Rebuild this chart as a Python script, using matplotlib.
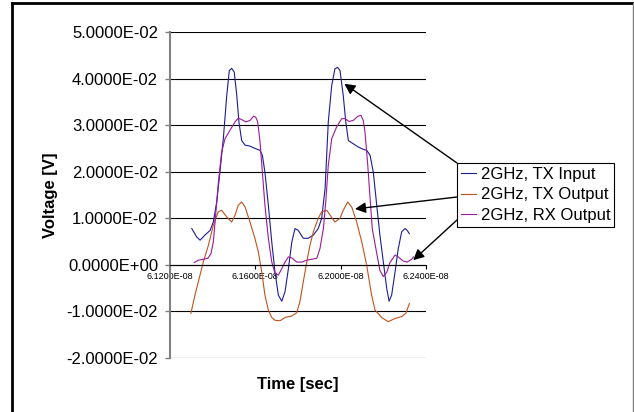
import matplotlib
matplotlib.use("Agg")
import matplotlib.pyplot as plt
from matplotlib.lines import Line2D
from matplotlib.ticker import FuncFormatter
import numpy as np

plt.rcParams["font.family"] = ["Liberation Sans", "DejaVu Sans"]

# time in ns, voltage in mV
t_tx_in = [61.302, 61.325, 61.341, 61.364, 61.388, 61.403, 61.419, 61.434, 61.450, 61.466,
           61.478, 61.489, 61.501, 61.513, 61.523, 61.536, 61.552, 61.575, 61.598, 61.622,
           61.633, 61.645, 61.661, 61.677, 61.692, 61.708, 61.724, 61.739, 61.755, 61.771,
           61.786, 61.801, 61.825, 61.848, 61.872, 61.895, 61.911, 61.927, 61.942, 61.958,
           61.973, 61.986, 61.997, 62.012, 62.024, 62.036, 62.059, 62.083, 62.106, 62.122,
           62.138, 62.153, 62.169, 62.184, 62.200, 62.216, 62.227, 62.239, 62.255, 62.270,
           62.286, 62.302, 62.312, 62.322]
v_tx_in = [7.8, 6.0, 5.3, 6.4, 7.4, 9.2, 13.5, 19.9, 27.1, 36.4,
           41.7, 42.2, 41.4, 36.4, 30.7, 26.7, 25.7, 25.5, 25.0, 24.6,
           23.5, 19.9, 12.8, 4.9, -1.5, -6.5, -7.8, -5.8, -0.8, 4.9,
           7.8, 7.4, 5.7, 5.7, 6.4, 7.8, 10.0, 16.4, 30.7, 38.5,
           42.1, 42.4, 41.7, 36.4, 30.7, 26.7, 26.0, 25.3, 24.8, 24.6,
           23.5, 19.9, 12.8, 6.4, 0.6, -5.1, -7.8, -6.5, -1.5, 3.5,
           7.1, 7.8, 7.4, 6.7]

t_tx_out = [61.298, 61.317, 61.333, 61.356, 61.380, 61.403, 61.426, 61.442, 61.466, 61.489,
            61.505, 61.520, 61.536, 61.552, 61.575, 61.598, 61.614, 61.630, 61.645, 61.661,
            61.677, 61.692, 61.716, 61.739, 61.770, 61.794, 61.809, 61.825, 61.841, 61.856,
            61.872, 61.895, 61.911, 61.935, 61.950, 61.973, 61.997, 62.012, 62.033, 62.052,
            62.075, 62.099, 62.122, 62.145, 62.161, 62.192, 62.223, 62.255, 62.286, 62.306,
            62.322]
v_tx_out = [-10.4, -6.5, -3.6, 0.6, 4.2, 8.5, 11.4, 11.7, 10.3, 9.2,
            10.7, 12.8, 13.5, 12.4, 9.2, 5.7, 2.8, -1.5, -6.5, -9.7,
            -11.3, -11.9, -12.0, -11.3, -11.0, -10.3, -7.9, -3.6, 0.6, 4.2,
            7.1, 10.0, 11.4, 11.7, 10.7, 9.2, 10.0, 11.7, 13.5, 12.4,
            9.2, 4.9, -0.1, -6.5, -9.7, -11.3, -12.2, -11.5, -11.1, -10.4,
            -8.3]

t_rx_out = [61.314, 61.333, 61.356, 61.377, 61.392, 61.403, 61.414, 61.427, 61.442, 61.458,
            61.481, 61.505, 61.520, 61.536, 61.555, 61.575, 61.591, 61.602, 61.611, 61.622,
            61.633, 61.645, 61.661, 61.677, 61.692, 61.708, 61.724, 61.739, 61.755, 61.771,
            61.794, 61.818, 61.841, 61.864, 61.888, 61.903, 61.919, 61.930, 61.942, 61.958,
            61.981, 62.005, 62.020, 62.039, 62.059, 62.080, 62.095, 62.106, 62.114, 62.127,
            62.138, 62.148, 62.169, 62.184, 62.200, 62.216, 62.231, 62.255, 62.270, 62.294,
            62.312, 62.333, 62.341]
v_rx_out = [0.5, 1.0, 1.2, 1.4, 2.4, 4.9, 10.7, 17.8, 24.2, 27.1,
            28.9, 30.7, 31.5, 31.2, 30.7, 31.0, 31.9, 31.7, 30.7, 26.4,
            19.9, 12.8, 5.7, 0.6, -1.8, -2.2, -0.8, 0.6, 1.7, 1.5,
            0.6, 0.6, 1.0, 1.2, 1.4, 3.5, 7.8, 13.5, 21.4, 27.1,
            29.6, 31.4, 31.4, 30.8, 31.0, 31.9, 32.1, 31.0, 28.5, 21.4,
            14.2, 7.8, 2.5, -1.2, -2.5, -1.6, 0.5, 2.1, 1.7, 0.8,
            0.6, 1.2, 1.7]

labels = ["2GHz, TX Input", "2GHz, TX Output", "2GHz, RX Output"]
colors = ["#1c1c96", "#c0531c", "#9a1a9a"]

x_ticks = [6.12e-8, 6.16e-8, 6.20e-8, 6.24e-8]
y_ticks = [-0.02, -0.01, 0.0, 0.01, 0.02, 0.03, 0.04, 0.05]

W, H = 634, 412
fig = plt.figure(figsize=(W / 100, H / 100), dpi=100)
ax = fig.add_axes([170 / W, 1 - 358 / H, 256 / W, 326 / H])

series = [(t_tx_in, v_tx_in), (t_tx_out, v_tx_out), (t_rx_out, v_rx_out)]
for (t, v), lab, c in zip(series, labels, colors):
    ax.plot(np.array(t) * 1e-9, np.array(v) * 1e-3, color=c, lw=0.8, label=lab)

ax.set_xlim(x_ticks[0], x_ticks[-1])
ax.set_ylim(y_ticks[0], y_ticks[-1])
ax.set_xticks(x_ticks)
ax.set_yticks(y_ticks)
sci = FuncFormatter(lambda v, pos: f"{v:.4E}")
ax.xaxis.set_major_formatter(sci)
ax.yaxis.set_major_formatter(sci)

for y in y_ticks:
    ax.axhline(y, color="black", lw=0.8, zorder=0)

ax.spines["top"].set_visible(False)
ax.spines["right"].set_visible(False)
ax.spines["left"].set_color("#808080")
ax.spines["left"].set_linewidth(1.5)
ax.spines["bottom"].set_position(("data", 0))
ax.spines["bottom"].set_color("black")
ax.spines["bottom"].set_linewidth(0.8)

ax.tick_params(axis="y", direction="out", length=3.6, width=1, color="#808080",
               labelsize=12, pad=5)
ax.tick_params(axis="x", direction="out", length=3, width=0.8, color="black",
               labelsize=6.5, pad=2.5)

fig.text(50 / W, 1 - 195 / H, "Voltage [V]", rotation=90, ha="center", va="center",
         fontsize=12, fontweight="bold")
fig.text(298 / W, 1 - 385 / H, "Time [sec]", ha="center", va="center",
         fontsize=12, fontweight="bold")

leg = ax.legend(loc="upper left", bbox_to_anchor=(457 / W, 1 - 163 / H),
                bbox_transform=fig.transFigure, borderaxespad=0, fontsize=12,
                frameon=True, fancybox=False, edgecolor="black", framealpha=1,
                handlelength=0.9, handletextpad=0.3, borderpad=0.22, labelspacing=0.35)
leg.get_frame().set_linewidth(0.8)

# arrows from the legend box to each trace
arrow_tips = [(6.2017e-8, 0.0389), (6.2067e-8, 0.0120), (6.2340e-8, 0.0010)]
arrow_starts = [(457, H - 163), (457, H - 197), (457, H - 220)]
for tip, start in zip(arrow_tips, arrow_starts):
    ax.annotate("", xy=tip, xycoords="data", xytext=start, textcoords="figure pixels",
                arrowprops=dict(arrowstyle="-|>", color="black", lw=1,
                                mutation_scale=16, shrinkA=0, shrinkB=0),
                annotation_clip=False)

# outer chart frame
fig.add_artist(Line2D([12 / W, 12 / W], [0, 1 - 3 / H], color="black", lw=2))
fig.add_artist(Line2D([12 / W, 632.5 / W], [1 - 3 / H, 1 - 3 / H], color="black", lw=2))
fig.add_artist(Line2D([632.5 / W, 632.5 / W], [0, 1 - 3 / H], color="#808080", lw=1))

fig.savefig("out.png", dpi=100)
